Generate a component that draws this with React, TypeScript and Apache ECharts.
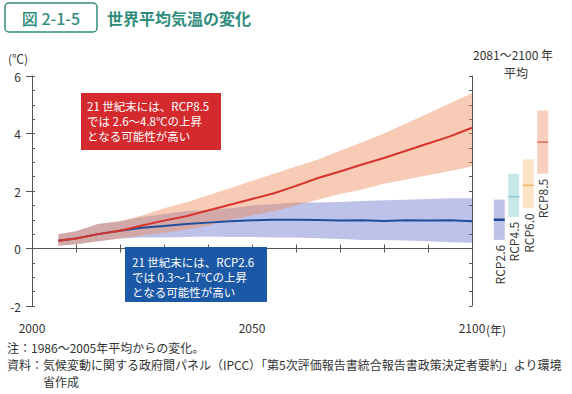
import React, { useEffect, useRef } from "react";
import * as echarts from "echarts";

// ---- data ----
const years = [2006, 2010, 2015, 2020, 2025, 2030, 2035, 2040, 2045, 2050, 2055, 2060, 2065, 2070, 2075, 2080, 2085, 2090, 2095, 2100];
const rcp85Mean = [0.27, 0.35, 0.5, 0.62, 0.8, 0.97, 1.12, 1.32, 1.52, 1.72, 1.92, 2.18, 2.45, 2.68, 2.92, 3.15, 3.4, 3.65, 3.9, 4.2];
const rcp85High = [0.5, 0.6, 0.85, 0.95, 1.15, 1.4, 1.6, 1.85, 2.1, 2.35, 2.6, 2.85, 3.1, 3.4, 3.7, 4.0, 4.35, 4.7, 5.05, 5.4];
const rcp85Low = [0.1, 0.15, 0.25, 0.35, 0.45, 0.55, 0.65, 0.8, 1.0, 1.15, 1.3, 1.5, 1.7, 1.9, 2.05, 2.25, 2.4, 2.55, 2.7, 2.85];
const rcp26Mean = [0.27, 0.35, 0.5, 0.62, 0.72, 0.78, 0.85, 0.9, 0.95, 0.98, 1.0, 1.0, 0.99, 0.97, 0.98, 0.96, 0.98, 0.97, 0.98, 0.95];
const rcp26High = [0.5, 0.6, 0.85, 0.95, 1.1, 1.2, 1.3, 1.35, 1.4, 1.5, 1.55, 1.6, 1.6, 1.62, 1.65, 1.68, 1.7, 1.72, 1.75, 1.75];
const rcp26Low = [0.1, 0.15, 0.25, 0.35, 0.38, 0.38, 0.4, 0.42, 0.4, 0.4, 0.38, 0.38, 0.36, 0.33, 0.3, 0.3, 0.28, 0.25, 0.22, 0.2];

const scenarioNames = ["RCP2.6", "RCP4.5", "RCP6.0", "RCP8.5"];
const scenarioMean = [1.0, 1.8, 2.2, 3.7];
const scenarioLow = [0.3, 1.1, 1.4, 2.6];
const scenarioHigh = [1.7, 2.6, 3.1, 4.8];

const xTickLabels = [2000, 2050, 2100];
const yMin = -2;
const yMax = 6;

// ---- styles ----
const FONT = '"Noto Sans CJK JP", "Noto Sans", sans-serif';
const TEAL = "#2f8c7c";
const AXIS = "#555";
const barFill = ["#bfc1e6", "#c7e7e8", "#fde3c6", "#f9d0bd"];
const barMean = ["#1d4a96", "#8cc8d8", "#f0b865", "#df6a5c"];
const barMeanWidth = [2.5, 1.5, 1.5, 1.5];

function bandSeries(high: number[], low: number[], color: string, z: number) {
  return {
    type: "custom",
    xAxisIndex: 0,
    yAxisIndex: 0,
    z,
    silent: true,
    data: [[years[0], low[0]]],
    renderItem: (_params: any, api: any) => {
      const pts: number[][] = [];
      for (let i = 0; i < years.length; i++) pts.push(api.coord([years[i], high[i]]));
      for (let i = years.length - 1; i >= 0; i--) pts.push(api.coord([years[i], low[i]]));
      return { type: "polygon", shape: { points: pts }, style: { fill: color } };
    },
  };
}

export default function App() {
  const ref = useRef<HTMLDivElement>(null);
  useEffect(() => {
    if (!ref.current) return;
    const chart = echarts.init(ref.current, undefined, { renderer: "svg" });
    const option: any = {
      animation: false,
      backgroundColor: "#fff",
      textStyle: { fontFamily: FONT },
      grid: [
        { left: 32, right: 100, top: 76, bottom: 88 },
        { left: 492, width: 58, top: 76, bottom: 88 },
      ],
      xAxis: [
        {
          type: "value", gridIndex: 0, min: 2000, max: 2100, interval: 10, position: "bottom",
          axisLine: { show: true, lineStyle: { color: AXIS } },
          axisTick: { show: true, inside: true, length: 4, lineStyle: { color: AXIS } },
          splitLine: { show: false },
          axisLabel: {
            margin: 15, color: "#333", fontSize: 12, fontFamily: FONT,
            showMinLabel: true, showMaxLabel: true,
            formatter: (v: number) => (xTickLabels.includes(v) ? String(v) : ""),
          },
        },
        {
          type: "value", gridIndex: 0, min: 2000, max: 2100, interval: 10, position: "top",
          axisLine: { show: true, lineStyle: { color: AXIS } },
          axisTick: { show: true, inside: true, length: 4, lineStyle: { color: AXIS } },
          splitLine: { show: false },
          axisLabel: { show: false },
        },
        {
          type: "category", gridIndex: 1, data: scenarioNames, show: false,
        },
      ],
      yAxis: [
        {
          type: "value", gridIndex: 0, min: yMin, max: yMax, interval: 2, position: "left",
          axisLine: { show: true, lineStyle: { color: AXIS } },
          axisTick: { show: true, inside: false, length: 6, lineStyle: { color: AXIS } },
          splitLine: { show: false },
          axisLabel: { margin: 11, color: "#333", fontSize: 12, fontFamily: FONT },
        },
        {
          type: "value", gridIndex: 0, min: yMin, max: yMax, interval: 0.5, position: "left",
          axisLine: { show: false },
          axisTick: { show: true, inside: true, length: 3, lineStyle: { color: AXIS } },
          splitLine: { show: false },
          axisLabel: { show: false },
        },
        {
          type: "value", gridIndex: 0, min: yMin, max: yMax, interval: 0.5, position: "right",
          axisLine: { show: true, lineStyle: { color: AXIS } },
          axisTick: { show: true, inside: true, length: 3, lineStyle: { color: AXIS } },
          splitLine: { show: false },
          axisLabel: { show: false },
        },
        {
          type: "value", gridIndex: 1, min: yMin, max: yMax, show: false, splitLine: { show: false },
        },
      ],
      series: [
        bandSeries(rcp26High, rcp26Low, "rgba(100,110,200,0.42)", 1),
        bandSeries(rcp85High, rcp85Low, "rgba(238,140,90,0.45)", 2),
        {
          type: "line", xAxisIndex: 0, yAxisIndex: 0, z: 3, showSymbol: false, silent: true,
          data: years.map((y, i) => [y, rcp26Mean[i]]),
          lineStyle: { color: "#1f4f9c", width: 2 },
        },
        {
          type: "line", xAxisIndex: 0, yAxisIndex: 0, z: 4, showSymbol: false, silent: true,
          data: years.map((y, i) => [y, rcp85Mean[i]]),
          lineStyle: { color: "#d7342c", width: 2 },
        },
        {
          type: "custom", xAxisIndex: 2, yAxisIndex: 3, z: 3, silent: true,
          data: scenarioNames.map((_n, i) => [i, scenarioMean[i], scenarioLow[i], scenarioHigh[i]]),
          renderItem: (_params: any, api: any) => {
            const idx = api.value(0);
            const top = api.coord([idx, api.value(3)]);
            const bot = api.coord([idx, api.value(2)]);
            const mid = api.coord([idx, api.value(1)]);
            const w = 11;
            return {
              type: "group",
              children: [
                { type: "rect", shape: { x: top[0] - w / 2, y: top[1], width: w, height: bot[1] - top[1] }, style: { fill: barFill[idx] } },
                { type: "line", shape: { x1: mid[0] - w / 2, y1: mid[1], x2: mid[0] + w / 2, y2: mid[1] }, style: { stroke: barMean[idx], lineWidth: barMeanWidth[idx] } },
                {
                  type: "text", x: bot[0], y: bot[1] + 5, rotation: Math.PI / 2,
                  style: { text: scenarioNames[idx], fill: "#333", font: `12px ${FONT}`, align: "right", verticalAlign: "middle" },
                },
              ],
            };
          },
        },
      ],
      graphic: [
        { type: "rect", shape: { x: 5, y: 3, width: 92, height: 29, r: 4 }, style: { fill: "#fff", stroke: TEAL, lineWidth: 1.5 } },
        { type: "text", x: 51, y: 18, style: { text: "図 2-1-5", fill: TEAL, font: `500 16px ${FONT}`, align: "center", verticalAlign: "middle" } },
        { type: "text", x: 107, y: 18, style: { text: "世界平均気温の変化", fill: TEAL, font: `bold 16px ${FONT}`, align: "left", verticalAlign: "middle" } },
        { type: "text", x: 8, y: 58, style: { text: "(℃)", fill: "#333", font: `12px ${FONT}`, align: "left", verticalAlign: "middle" } },
        { type: "text", x: 486, y: 329, style: { text: "(年)", fill: "#333", font: `12px ${FONT}`, align: "left", verticalAlign: "middle" } },
        { type: "text", x: 513, y: 54, style: { text: "2081～2100 年", fill: "#333", font: `12px ${FONT}`, align: "center", verticalAlign: "middle" } },
        { type: "text", x: 516, y: 72, style: { text: "平均", fill: "#333", font: `12px ${FONT}`, align: "center", verticalAlign: "middle" } },
        { type: "rect", z: 10, shape: { x: 81, y: 93, width: 140, height: 57 }, style: { fill: "#d42a2e" } },
        { type: "text", z: 11, x: 87, y: 98, style: { text: "21 世紀末には、RCP8.5\nでは 2.6～4.8℃の上昇\nとなる可能性が高い", fill: "#fff", font: `11.5px ${FONT}`, lineHeight: 15, align: "left", verticalAlign: "top" } },
        { type: "rect", z: 10, shape: { x: 125, y: 247, width: 142, height: 55 }, style: { fill: "#1b58a5" } },
        { type: "text", z: 11, x: 132, y: 254, style: { text: "21 世紀末には、RCP2.6\nでは 0.3～1.7℃の上昇\nとなる可能性が高い", fill: "#fff", font: `11.5px ${FONT}`, lineHeight: 15, align: "left", verticalAlign: "top" } },
        { type: "text", x: 7, y: 347, style: { text: "注：1986～2005年平均からの変化。", fill: "#333", font: `12px ${FONT}`, align: "left", verticalAlign: "middle" } },
        { type: "text", x: 7, y: 364, style: { text: "資料：気候変動に関する政府間パネル（IPCC）「第5次評価報告書統合報告書政策決定者要約」より環境", fill: "#333", font: `12px ${FONT}`, align: "left", verticalAlign: "middle" } },
        { type: "text", x: 43, y: 381, style: { text: "省作成", fill: "#333", font: `12px ${FONT}`, align: "left", verticalAlign: "middle" } },
      ],
    };
    chart.setOption(option);
    return () => chart.dispose();
  }, []);
  return <div ref={ref} style={{ position: "fixed", left: 0, top: 0, width: 572, height: 394 }} />;
}
